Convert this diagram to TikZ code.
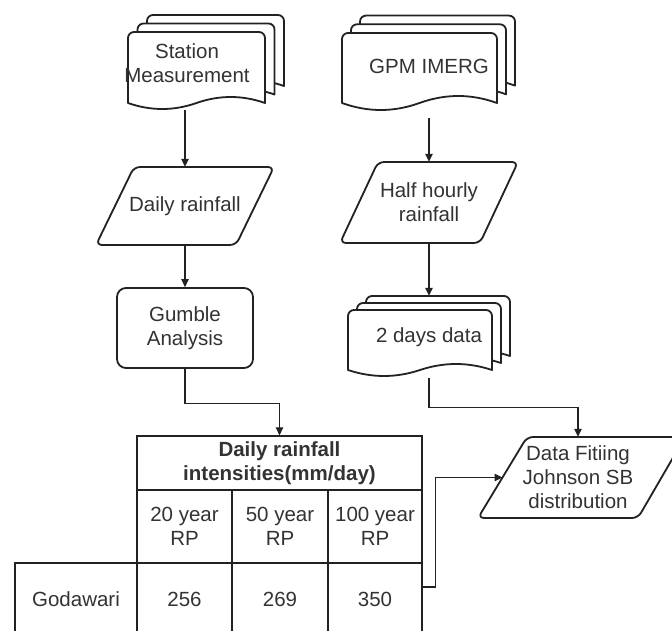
\documentclass[tikz,border=0pt]{standalone}
\usepackage{fontspec}
\setmainfont{Liberation Sans}
\usetikzlibrary{arrows.meta,calc}
\definecolor{ln}{HTML}{222222}
\definecolor{tx}{HTML}{333333}
\tikzset{
  shapeline/.style={draw=ln, line width=1.8pt, fill=white, line join=round},
  conn/.style={draw=ln, line width=1.1pt, -{Triangle[length=8pt,width=7.5pt]}},
  lbl/.style={text=tx, font=\fontsize{20.5}{24}\selectfont, align=center, inner sep=0pt},
  cell/.style={draw=ln, line width=1.3pt, text=tx, font=\fontsize{20.5}{24}\selectfont, align=center, inner sep=0pt},
}
% document shape: x0, y0, width, height (to wave level), wave amplitude
\newcommand\docshape[5]{%
  \draw[shapeline] (#1+#3,#2+#4)
    .. controls (#1+#3-#3/6,#2+#4-4*#5/3) and (#1+#3/2+#3/6,#2+#4-4*#5/3) .. (#1+#3/2,#2+#4)
    .. controls (#1+#3/2-#3/6,#2+#4+4*#5/3) and (#1+#3/6,#2+#4+4*#5/3) .. (#1,#2+#4)
    [rounded corners=6pt] -- (#1,#2) -- (#1+#3,#2) [sharp corners] -- cycle;}
% multi document: x0, y0, w, h, amp, dx, dy
\newcommand\multidoc[7]{%
  \docshape{#1+2*#6}{#2-2*#7}{#3}{#4}{#5}%
  \docshape{#1+#6}{#2-#7}{#3}{#4}{#5}%
  \docshape{#1}{#2}{#3}{#4}{#5}}
\begin{document}
\begin{tikzpicture}[x=1pt,y=-1pt]
\useasboundingbox (0,0) rectangle (672,631);
\fill[white] (0,0) rectangle (672,631);
\clip (0,0) rectangle (672,631);

% ---- shapes ----
\multidoc{128}{32}{137}{71}{6}{9.5}{8.5}
\multidoc{342}{33}{155}{70}{7}{9}{8.7}
\multidoc{348}{310}{144}{60}{6}{9}{7}

\draw[shapeline, rounded corners=6pt] (134,167) -- (274,167) -- (236,245) -- (96,245) -- cycle;
\draw[shapeline, rounded corners=6pt] (378,162) -- (518,162) -- (480,243) -- (340,243) -- cycle;
\draw[shapeline, rounded corners=6pt] (527,437) -- (685,437) -- (638,518) -- (478,518) -- cycle;

% ---- nodes ----
\node[lbl, minimum width=137, minimum height=95] (stat) at (187,63) {Station\\Measurement};
\node[lbl, minimum width=155, minimum height=104] (gpm) at (429,66) {GPM IMERG};
\node[lbl, minimum width=178, minimum height=78] (dr) at (185,206) {Daily rainfall};
\node[lbl, minimum width=178, minimum height=81] (hh) at (429,202.5) {Half hourly\\rainfall};
\node[lbl, draw=ln, line width=1.8pt, rounded corners=9pt, minimum width=136, minimum height=80] (gum) at (185,328) {Gumble\\Analysis};
\node[lbl, minimum width=144, minimum height=82] (two) at (429,337) {2 days data};
\node[lbl, minimum width=156, minimum height=81] (fit) at (578,477.5) {Data Fitiing\\Johnson SB\\distribution};
\coordinate (fitin) at (502.5,477.5);
\coordinate (statout) at (185,110);

% ---- table ----
\node[cell, font=\fontsize{20.5}{24}\selectfont\bfseries, minimum width=285, minimum height=54] (hdr) at (279.5,463) {Daily rainfall\\intensities(mm/day)};
\node[cell, minimum width=95, minimum height=73] (r1) at (184.5,526.5) {20 year\\RP};
\node[cell, minimum width=96, minimum height=73] (r2) at (280,526.5) {50 year\\RP};
\node[cell, minimum width=94, minimum height=73] (r3) at (375,526.5) {100 year\\RP};
\node[cell, minimum width=122, minimum height=73] (god) at (76,599.5) {Godawari};
\node[cell, minimum width=95, minimum height=73] (v1) at (184.5,599.5) {256};
\node[cell, minimum width=96, minimum height=73] (v2) at (280,599.5) {269};
\node[cell, minimum width=94, minimum height=73] (v3) at (375,599.5) {350};

% ---- connectors ----
\draw[conn] (statout) -- (dr.north);
\draw[conn] (dr.south) -- (gum.north);
\draw[conn] (gum.south) -- ++(0,35) -| (hdr.north);
\draw[conn] (gpm.south) -- (hh.north);
\draw[conn] (hh.south) -- (two.north);
\draw[conn] (two.south) -- ++(0,29) -| (fit.north);
\draw[conn] ([yshift=12.5pt]v3.east) -- ++(13,0) |- (fitin);
\end{tikzpicture}
\end{document}
